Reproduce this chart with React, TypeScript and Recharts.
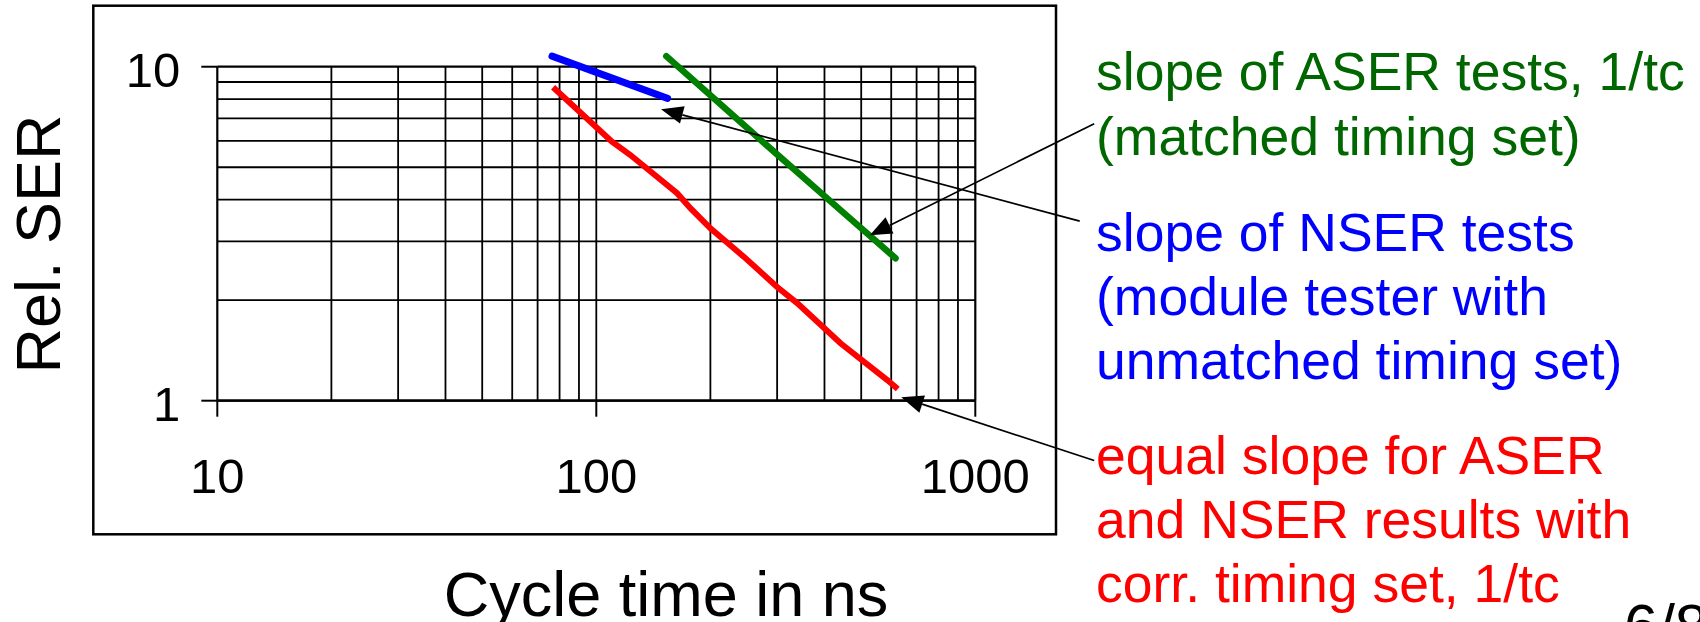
import { LineChart, Line, XAxis, YAxis, ReferenceLine } from 'recharts'

const FONT = '"Liberation Sans", Arial, Helvetica, sans-serif'

// axis ticks and grid values
const cycleTicks = [10, 100, 1000]
const serTicks = [1, 10]
const cycleGrid = [10, 20, 30, 40, 50, 60, 70, 80, 90, 100, 200, 300, 400, 500, 600, 700, 800, 900, 1000]
const serGrid = [1, 2, 3, 4, 5, 6, 7, 8, 9, 10]

// series (cycle time in ns, relative SER)
const equalCycle = [76.9, 110, 123, 163.4, 177.1, 200, 244.9, 300, 338.8, 441, 585.8, 624.5]
const equalSer = [8.68, 5.96, 5.44, 4.18, 3.77, 3.28, 2.7, 2.19, 1.96, 1.486, 1.153, 1.084]
const aserCycle = [153, 291, 441, 616]
const aserSer = [10.76, 5.63, 3.72, 2.67]
const nserCycle = [76.4, 154.2]
const nserSer = [10.76, 8.04]

const greenNote = ['slope of ASER tests, 1/tc', '(matched timing set)']
const blueNote = ['slope of NSER tests', '(module tester with', 'unmatched timing set)']
const redNote = ['equal slope for ASER', 'and NSER results with', 'corr. timing set, 1/tc']

// arrows: tail near the note, head on the series (data units)
const arrows = [
  { from: { x: 2059, y: 6.75 }, to: { x: 526.8, y: 3.13 } },
  { from: { x: 1886, y: 3.45 }, to: { x: 148.2, y: 7.46 } },
  { from: { x: 2059, y: 0.662 }, to: { x: 637.8, y: 1.024 } },
]

const toPoints = (xs: number[], ys: number[]) => xs.map((x, i) => ({ x, y: ys[i] }))

const equalData = toPoints(equalCycle, equalSer)
const aserData = toPoints(aserCycle, aserSer)
const nserData = toPoints(nserCycle, nserSer)

function Arrow(props: any) {
  const { x1, y1, x2, y2 } = props
  const ang = Math.atan2(y2 - y1, x2 - x1)
  const len = 22
  const half = 9
  const bx = x2 - len * Math.cos(ang)
  const by = y2 - len * Math.sin(ang)
  const px = -Math.sin(ang) * half
  const py = Math.cos(ang) * half
  return (
    <g>
      <line x1={x1} y1={y1} x2={bx} y2={by} stroke="#000" strokeWidth={1.7} />
      <polygon points={`${x2},${y2} ${bx + px},${by + py} ${bx - px},${by - py}`} fill="#000" />
    </g>
  )
}

function XTick(props: any) {
  const { x, y, payload } = props
  return (
    <text x={x} y={y + 76} textAnchor="middle" fontFamily={FONT} fontSize={49} fill="#000">
      {payload.value}
    </text>
  )
}

function YTick(props: any) {
  const { x, y, payload } = props
  return (
    <text x={x - 21} y={y + 20.5} textAnchor="end" fontFamily={FONT} fontSize={49} fill="#000">
      {payload.value}
    </text>
  )
}

function Note({ lines, x, y, color }: { lines: string[]; x: number; y: number; color: string }) {
  return (
    <text x={x} y={y} fontFamily={FONT} fontSize={53.5} fill={color}>
      {lines.map((t, i) => (
        <tspan key={i} x={x} y={y + i * 64.2}>
          {t}
        </tspan>
      ))}
    </text>
  )
}

export default function App() {
  return (
    <div style={{ position: 'relative', width: 1700, height: 622, background: '#fff', overflow: 'hidden' }}>
      <style>{'body{margin:0}'}</style>
      <LineChart width={1700} height={622} margin={{ top: 52.9, right: 724.7, bottom: 161.3, left: 157.3 }}>
        <XAxis
          type="number"
          dataKey="x"
          scale="log"
          domain={[10, 1000]}
          ticks={cycleTicks}
          interval={0}
          height={60}
          tickSize={16}
          tickMargin={0}
          axisLine={{ stroke: '#000', strokeWidth: 2.2 }}
          tickLine={{ stroke: '#000', strokeWidth: 2 }}
          tick={XTick}
        />
        <YAxis
          type="number"
          dataKey="y"
          scale="log"
          domain={[1, 11]}
          ticks={serTicks}
          interval={0}
          width={60}
          tickSize={16}
          tickMargin={0}
          axisLine={false}
          tickLine={{ stroke: '#000', strokeWidth: 2 }}
          tick={YTick}
        />
        {cycleGrid.map((v) => (
          <ReferenceLine
            key={'v' + v}
            segment={[{ x: v, y: 1 }, { x: v, y: 10 }]}
            stroke="#000"
            strokeWidth={v === 10 || v === 1000 ? 2.2 : 1.8}
            ifOverflow="visible"
          />
        ))}
        {serGrid.map((v) => (
          <ReferenceLine
            key={'h' + v}
            segment={[{ x: 10, y: v }, { x: 1000, y: v }]}
            stroke="#000"
            strokeWidth={v === 1 || v === 10 ? 2.2 : 1.8}
            ifOverflow="visible"
          />
        ))}
        <Line data={equalData} dataKey="y" stroke="#ff0000" strokeWidth={6} dot={false} isAnimationActive={false} />
        <Line data={aserData} dataKey="y" stroke="#008000" strokeWidth={6.5} strokeLinecap="round" dot={false} isAnimationActive={false} />
        <Line data={nserData} dataKey="y" stroke="#0000ff" strokeWidth={7} strokeLinecap="round" dot={false} isAnimationActive={false} />
        {arrows.map((a, i) => (
          <ReferenceLine key={'a' + i} segment={[a.from, a.to]} ifOverflow="visible" shape={Arrow} />
        ))}
      </LineChart>
      <svg width={1700} height={622} style={{ position: 'absolute', left: 0, top: 0, pointerEvents: 'none' }}>
        <rect x={93.3} y={5.7} width={962.7} height={528.6} fill="none" stroke="#000" strokeWidth={2.5} />
        <text
          transform="translate(60,244) rotate(-90)"
          textAnchor="middle"
          fontFamily={FONT}
          fontSize={63}
          fill="#000"
        >
          Rel. SER
        </text>
        <text x={666} y={616} textAnchor="middle" fontFamily={FONT} fontSize={63} fill="#000">
          Cycle time in ns
        </text>
        <Note lines={greenNote} x={1096} y={90.4} color="#006600" />
        <Note lines={blueNote} x={1096} y={250.7} color="#0000ff" />
        <Note lines={redNote} x={1096} y={474} color="#ff0000" />
        <text x={1624} y={647} fontFamily={FONT} fontSize={61} fill="#000">
          6/8
        </text>
      </svg>
    </div>
  )
}
